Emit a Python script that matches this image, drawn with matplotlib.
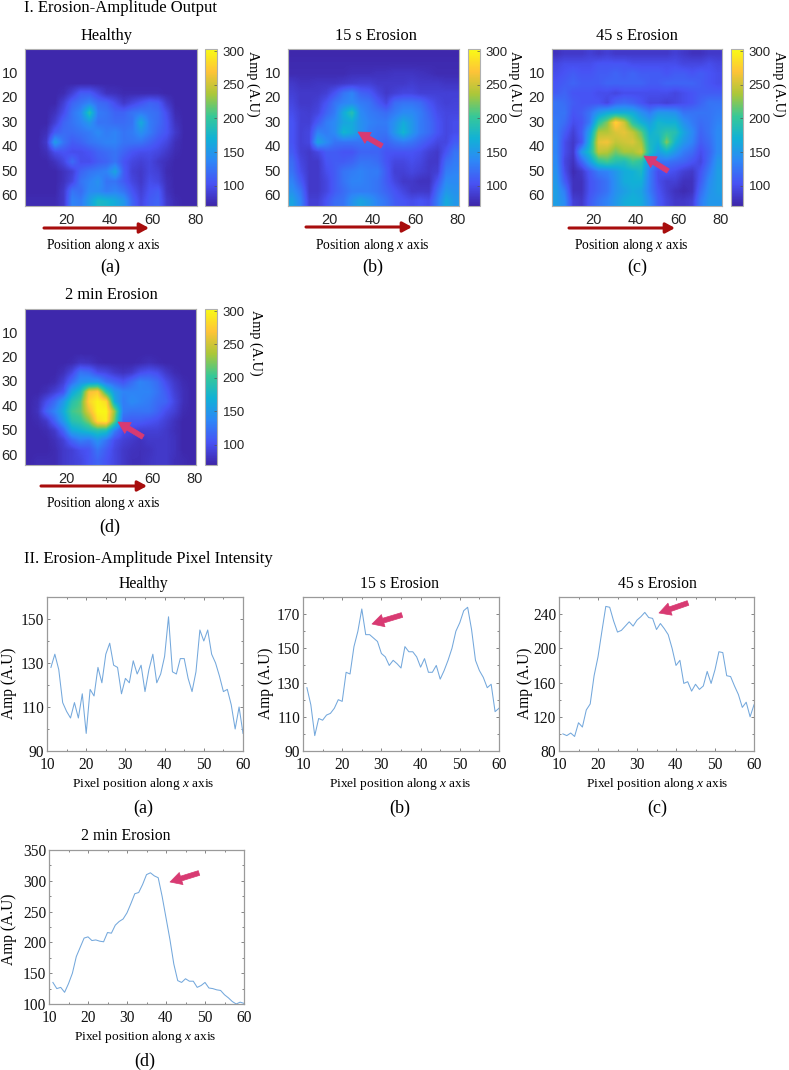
import numpy as np
import matplotlib
matplotlib.use("Agg")
import matplotlib.pyplot as plt
from matplotlib.colors import LinearSegmentedColormap

W, H = 789, 1070

plt.rcParams['font.family'] = ['Liberation Serif', 'DejaVu Serif']
plt.rcParams['mathtext.fontset'] = 'custom'
plt.rcParams['mathtext.rm'] = 'Liberation Serif'
plt.rcParams['mathtext.it'] = 'Liberation Serif:italic'

parula = LinearSegmentedColormap.from_list("parula", [
    (0.242, 0.150, 0.660), (0.281, 0.323, 0.958), (0.179, 0.529, 0.968),
    (0.069, 0.695, 0.839), (0.216, 0.784, 0.592), (0.672, 0.779, 0.223),
    (0.997, 0.766, 0.220), (0.977, 0.984, 0.081)])

# amplitude maps, read on a coarse grid (4 px cells, 16 rows x 20 columns)
map_healthy = [
    [72]*20,
    [72]*20,
    [72]*20,
    [72]*20,
    [72, 72, 72, 72, 75, 90, 110, 110, 95, 80, 78, 74, 74, 74, 74, 74, 72, 72, 72, 72],
    [72, 72, 72, 72, 90, 115, 125, 135, 120, 115, 100, 85, 95, 105, 115, 110, 85, 72, 72, 72],
    [72, 72, 72, 80, 100, 125, 140, 190, 130, 125, 115, 115, 125, 130, 125, 120, 100, 75, 72, 72],
    [72, 72, 72, 90, 115, 125, 135, 150, 125, 125, 120, 120, 125, 165, 130, 120, 105, 80, 72, 72],
    [72, 72, 78, 110, 120, 120, 125, 130, 140, 130, 135, 125, 130, 145, 130, 115, 105, 85, 72, 72],
    [72, 72, 85, 155, 125, 110, 115, 125, 130, 135, 135, 125, 125, 125, 115, 105, 95, 78, 72, 72],
    [72, 72, 78, 100, 105, 100, 100, 105, 115, 120, 125, 115, 105, 100, 100, 95, 85, 75, 72, 72],
    [72, 72, 72, 80, 95, 120, 100, 100, 110, 115, 125, 105, 95, 90, 95, 85, 78, 72, 72, 72],
    [72, 72, 72, 72, 80, 90, 115, 125, 130, 135, 160, 110, 90, 85, 95, 90, 75, 72, 72, 72],
    [72, 72, 72, 72, 80, 95, 125, 135, 145, 125, 125, 110, 95, 85, 100, 95, 78, 72, 72, 72],
    [72, 72, 72, 72, 85, 125, 120, 140, 140, 130, 135, 125, 105, 90, 105, 110, 80, 72, 72, 72],
    [75, 75, 75, 75, 85, 135, 130, 155, 180, 175, 165, 150, 115, 95, 110, 115, 85, 75, 72, 72],
]
map_15s = [
    [72]*20,
    [74]*20,
    [75, 75, 75, 75, 75, 75, 75, 78, 78, 78, 80, 80, 82, 82, 82, 80, 78, 75, 75, 75],
    [85, 80, 80, 82, 82, 82, 85, 88, 90, 90, 85, 85, 85, 85, 88, 85, 85, 85, 82, 82],
    [90, 85, 85, 85, 90, 105, 125, 135, 115, 110, 95, 85, 90, 95, 95, 90, 90, 90, 90, 90],
    [95, 85, 85, 90, 105, 125, 135, 140, 130, 125, 110, 95, 120, 125, 125, 120, 105, 95, 90, 92],
    [100, 90, 88, 95, 115, 130, 165, 190, 140, 130, 125, 120, 130, 140, 140, 130, 115, 100, 95, 95],
    [105, 90, 90, 110, 130, 140, 160, 165, 145, 135, 130, 130, 145, 165, 150, 130, 120, 105, 95, 100],
    [105, 90, 95, 135, 130, 140, 175, 165, 145, 130, 125, 125, 150, 175, 150, 130, 120, 105, 95, 100],
    [105, 90, 95, 160, 140, 125, 125, 125, 125, 125, 120, 115, 125, 130, 125, 115, 105, 95, 95, 110],
    [110, 90, 85, 95, 110, 110, 105, 105, 115, 115, 115, 105, 105, 105, 105, 100, 90, 85, 105, 125],
    [120, 95, 85, 85, 105, 110, 110, 115, 125, 125, 120, 105, 95, 95, 100, 95, 85, 85, 120, 130],
    [125, 100, 85, 85, 100, 110, 125, 130, 135, 130, 130, 110, 90, 90, 95, 90, 85, 90, 130, 135],
    [135, 110, 85, 85, 95, 110, 125, 135, 135, 130, 125, 110, 95, 85, 85, 80, 80, 105, 140, 140],
    [145, 125, 85, 85, 95, 110, 120, 130, 130, 130, 125, 115, 105, 95, 85, 85, 85, 120, 150, 145],
    [160, 135, 90, 90, 105, 120, 125, 145, 160, 150, 135, 125, 110, 105, 100, 105, 100, 130, 165, 150],
]
map_45s = [
    [80, 85, 85, 85, 90, 85, 90, 85, 85, 85, 85, 85, 85, 85, 90, 85, 80, 80, 85, 85],
    [95, 100, 100, 100, 100, 105, 105, 105, 105, 100, 100, 100, 100, 100, 100, 95, 95, 95, 100, 95],
    [100, 105, 110, 105, 105, 110, 110, 115, 110, 115, 110, 110, 110, 105, 110, 110, 105, 110, 105, 100],
    [105, 110, 115, 110, 110, 110, 115, 115, 115, 115, 115, 110, 110, 115, 115, 115, 115, 110, 105, 100],
    [110, 115, 105, 105, 105, 100, 100, 95, 100, 100, 100, 100, 100, 100, 95, 100, 105, 110, 110, 110],
    [125, 120, 110, 105, 105, 105, 95, 115, 120, 115, 105, 95, 95, 90, 95, 100, 105, 115, 125, 125],
    [125, 125, 105, 110, 125, 150, 165, 170, 170, 165, 145, 130, 150, 150, 145, 125, 125, 125, 125, 130],
    [130, 120, 100, 105, 130, 195, 225, 280, 250, 195, 170, 155, 175, 170, 170, 145, 130, 120, 125, 135],
    [130, 110, 90, 110, 160, 240, 240, 255, 260, 245, 215, 170, 180, 195, 190, 160, 140, 115, 125, 140],
    [135, 100, 85, 105, 175, 260, 265, 245, 250, 255, 235, 180, 170, 225, 175, 150, 135, 110, 120, 140],
    [135, 100, 85, 150, 185, 245, 240, 220, 235, 235, 250, 185, 155, 170, 150, 130, 120, 100, 115, 140],
    [140, 95, 80, 115, 155, 195, 205, 190, 185, 205, 195, 140, 125, 125, 120, 115, 105, 95, 120, 150],
    [145, 100, 75, 85, 110, 130, 135, 150, 165, 170, 180, 130, 100, 105, 100, 90, 85, 105, 130, 155],
    [150, 110, 80, 80, 105, 115, 125, 145, 165, 170, 170, 130, 100, 90, 90, 80, 80, 110, 140, 155],
    [155, 130, 80, 80, 105, 115, 125, 145, 155, 165, 160, 130, 105, 90, 80, 75, 80, 120, 145, 155],
    [155, 140, 90, 85, 110, 125, 135, 150, 165, 170, 165, 140, 110, 95, 85, 85, 90, 130, 150, 150],
]
map_2min = [
    [72]*20,
    [72]*20,
    [72]*20,
    [72]*20,
    [72]*20,
    [72, 72, 72, 72, 72, 74, 82, 80, 74, 72, 72, 72, 72, 74, 78, 74, 72, 72, 72, 72],
    [72, 72, 72, 72, 78, 95, 125, 120, 100, 95, 85, 80, 85, 100, 105, 100, 85, 75, 72, 72],
    [72, 72, 72, 75, 90, 120, 145, 150, 150, 125, 115, 105, 120, 135, 130, 120, 100, 85, 75, 72],
    [72, 72, 78, 90, 105, 160, 185, 265, 275, 195, 150, 135, 135, 135, 135, 125, 110, 90, 78, 72],
    [72, 78, 100, 120, 150, 190, 210, 280, 298, 285, 165, 130, 140, 135, 130, 120, 115, 95, 78, 72],
    [72, 80, 115, 135, 165, 205, 215, 260, 300, 300, 230, 130, 125, 125, 125, 115, 100, 90, 75, 72],
    [72, 75, 85, 115, 150, 190, 200, 225, 285, 295, 215, 115, 110, 110, 105, 100, 90, 80, 72, 72],
    [72, 72, 75, 85, 115, 160, 170, 180, 190, 185, 130, 100, 95, 90, 90, 90, 85, 78, 72, 72],
    [72, 72, 72, 78, 90, 115, 130, 125, 145, 125, 100, 90, 85, 80, 85, 85, 85, 80, 72, 72],
    [72, 72, 72, 75, 85, 90, 100, 105, 125, 110, 95, 85, 80, 78, 80, 85, 85, 80, 72, 72],
    [72, 75, 75, 75, 85, 90, 95, 105, 115, 105, 95, 85, 78, 78, 82, 85, 85, 78, 75, 72],
]

# pixel intensity profiles, x = 11..60
pixel_x = list(range(11, 61))
line_healthy = [128, 134, 127, 112, 108, 105, 112, 105, 116, 98, 118, 115, 128, 121, 134, 139, 129, 128, 116, 123,
                121, 131, 125, 129, 117, 127, 134, 121, 125, 133, 151, 126, 125, 132, 132, 123, 117, 126, 145, 140,
                145, 134, 130, 124, 117, 118, 111, 100, 110, 98]
line_15s = [127, 117, 99, 109, 108, 111, 112, 115, 120, 119, 136, 135, 151, 160, 173, 158, 158, 156, 154, 147,
            145, 140, 143, 141, 138.5, 151, 148, 148, 145, 139, 144, 136, 136, 140, 132, 137, 143, 150, 160, 165,
            172, 174, 161, 143, 137, 133, 127, 129, 113, 115]
line_45s = [100, 98, 101, 97, 113, 108, 128, 135, 168, 190, 220, 249, 248, 232, 219, 221, 226, 231, 226, 233,
            237, 242, 236, 235, 222, 229, 223, 216, 200, 180, 186, 159, 161, 150, 158, 152, 156, 173, 159, 175,
            196, 195, 168, 167, 156, 146, 131, 137, 120, 134]
line_2min = [135, 125, 127, 119, 133, 150, 177, 192, 207, 209, 203, 204, 202, 201, 216, 215, 228, 234, 238, 248,
             263, 279, 281, 294, 310, 313, 308, 305, 275, 240, 205, 165, 138, 135, 141, 137, 137, 127, 130, 135,
             126, 125, 123, 122, 115, 110, 104, 100, 103, 101]

map_titles = ["Healthy", "15 s Erosion", "45 s Erosion", "2 min Erosion"]
map_ticks_x = [20, 40, 60, 80]
map_ticks_y = [10, 20, 30, 40, 50, 60]
cbar_ticks = [100, 150, 200, 250, 300]
panel_labels = ["(a)", "(b)", "(c)", "(d)"]

GREY = "#9a9a9a"
DARK_RED = "#a80d0d"
PINK = "#d83a72"

fig = plt.figure(figsize=(W / 100, H / 100), dpi=100)


def px_axes(x0, y0, x1, y1):
    return fig.add_axes([x0 / W, 1 - y1 / H, (x1 - x0) / W, (y1 - y0) / H])


def style_box(ax):
    for s in ax.spines.values():
        s.set_color(GREY)
        s.set_linewidth(0.9)
    ax.tick_params(which="both", direction="in", top=True, right=True, color="#707070", width=0.6)


def draw_map(values, box, cbox, title, title_pos, amp_pos):
    ax = px_axes(*box)
    im = ax.imshow(np.array(values, dtype=float), cmap=parula, vmin=70, vmax=303, aspect="auto",
                   extent=(0.5, 80.5, 64.5, 0.5), interpolation="bilinear")
    ax.set_xticks(map_ticks_x)
    ax.set_yticks(map_ticks_y)
    for s in ax.spines.values():
        s.set_color("#b0b0b0")
        s.set_linewidth(0.8)
    ax.tick_params(length=0, pad=5, labelsize=10.5, labelcolor="#262626")
    for lab in ax.get_xticklabels() + ax.get_yticklabels():
        lab.set_family("Liberation Sans")
    cax = px_axes(*cbox)
    cb = fig.colorbar(im, cax=cax)
    cb.set_ticks(cbar_ticks)
    cb.outline.set_edgecolor("#b0b0b0")
    cb.outline.set_linewidth(0.8)
    cax.tick_params(length=2, direction="in", width=0.5, color="#555555", pad=4, labelsize=9.5, labelcolor="#262626")
    for lab in cax.get_yticklabels():
        lab.set_family("Liberation Sans")
    over.text(*title_pos, title, fontsize=11.8, ha="center", va="center")
    over.text(*amp_pos, "Amp (A.U)", fontsize=10.3, rotation=270, ha="center", va="center")


def draw_line(values, box, ylim, major, minor, title, title_pos, ylab_pos):
    ax = px_axes(*box)
    ax.plot(pixel_x, values, color="#74a8dc", lw=0.75)
    ax.set_xlim(10, 60)
    ax.set_ylim(*ylim)
    ax.set_xticks([10, 20, 30, 40, 50, 60])
    ax.set_xticks(range(15, 60, 10), minor=True)
    ax.set_yticks(major)
    ax.set_yticks(minor, minor=True)
    style_box(ax)
    ax.tick_params(which="major", length=2.5, labelsize=11.2, labelcolor="#111111")
    ax.tick_params(axis="x", which="major", pad=4.5)
    ax.tick_params(axis="y", which="major", pad=2)
    ax.tick_params(which="minor", length=1.5)
    over.text(*title_pos, title, fontsize=11.3, ha="center", va="center")
    over.text(*ylab_pos, "Amp (A.U)", fontsize=11.2, rotation=90, ha="center", va="center")


# overlay in picture pixels for texts and arrows
over = fig.add_axes([0, 0, 1, 1], zorder=10)
over.set_xlim(0, W)
over.set_ylim(H, 0)
over.axis("off")
over.patch.set_alpha(0)

over.text(24, 8, "I. Erosion-Amplitude Output", fontsize=12, va="center")
over.text(24, 559, "II. Erosion-Amplitude Pixel Intensity", fontsize=12, va="center")

draw_map(map_healthy, (25, 49, 197, 206), (205, 49, 217, 206), map_titles[0], (107, 36), (253, 84))
draw_map(map_15s, (288, 49, 459, 206), (468, 49, 480, 206), map_titles[1], (376, 36), (515, 84))
draw_map(map_45s, (552, 49, 722, 206), (731, 49, 743, 206), map_titles[2], (637, 36), (779, 84))
draw_map(map_2min, (25, 309, 196, 465), (205, 309, 217, 465), map_titles[3], (111, 295), (256, 343))

draw_line(line_healthy, (47, 597, 243, 751), (90, 160), [90, 110, 130, 150], [100, 120, 140, 160],
          map_titles[0], (143, 584), (9, 683))
draw_line(line_15s, (303, 597, 499, 751), (90, 180), [90, 110, 130, 150, 170], [100, 120, 140, 160, 180],
          map_titles[1], (400, 584), (266, 683))
draw_line(line_45s, (559, 597, 754, 751), (80, 260), [80, 120, 160, 200, 240], [100, 140, 180, 220, 260],
          map_titles[2], (657, 584), (525, 683))
draw_line(line_2min, (49, 850, 244, 1004), (100, 350), [100, 150, 200, 250, 300, 350], [125, 175, 225, 275, 325],
          map_titles[3], (126, 836), (9, 929))

# position captions and red arrows under the maps
for x0, x1, y, tx, ty in [(44, 149, 228, 103, 245), (306, 412, 227, 372, 245),
                          (569, 675, 228, 631, 245), (41, 147, 486, 103, 504)]:
    over.annotate("", xy=(x1, y), xytext=(x0, y),
                  arrowprops=dict(arrowstyle="-|>,head_length=0.55,head_width=0.3", color=DARK_RED, lw=2.2,
                                  shrinkA=0, shrinkB=0))
    over.text(tx, ty, r"Position along $\mathit{x}$ axis", fontsize=9.8, ha="center", va="center")

# pink arrows pointing at the erosion
for tail, head in [((382, 146), (358, 132)), ((668, 171), (644, 156)), ((143, 437), (118, 422)),
                   ((402, 615), (372, 624)), ((688, 603), (659, 613)), ((199, 873), (170, 882))]:
    over.annotate("", xy=head, xytext=tail,
                  arrowprops=dict(arrowstyle="simple,head_length=0.6,head_width=0.65,tail_width=0.25", color=PINK,
                                  lw=0.5, shrinkA=0, shrinkB=0, mutation_scale=14))

# x labels under the profiles
for tx, ty in [(143, 784), (400, 784), (657, 784), (145, 1037)]:
    over.text(tx, ty, r"Pixel position along $\mathit{x}$ axis", fontsize=9.6, ha="center", va="center")

for (tx, ty), lab in zip([(110, 267), (373, 267), (637, 267), (110, 527),
                          (143, 808), (400, 808), (657, 808), (145, 1061)], panel_labels * 2):
    over.text(tx, ty, lab, fontsize=13, ha="center", va="center")

fig.savefig("out.png", dpi=100)
